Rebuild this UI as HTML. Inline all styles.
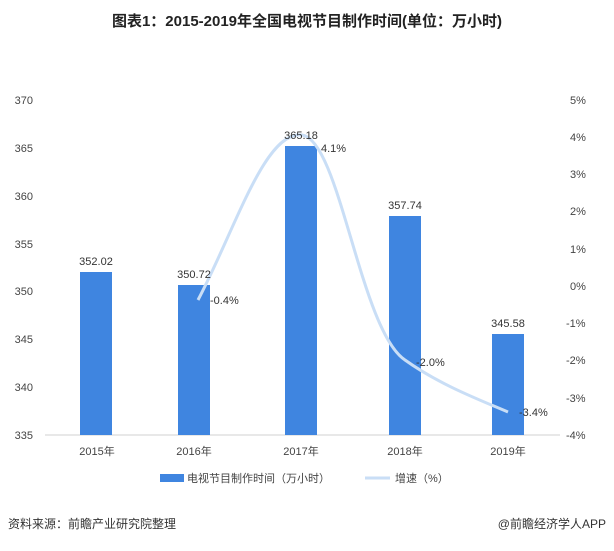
<!DOCTYPE html>
<html><head><meta charset="utf-8"><style>
body{margin:0;background:#fff;}
svg text{font-family:"Liberation Sans","Noto Sans CJK SC",sans-serif;}
</style></head><body>
<svg width="614" height="546" viewBox="0 0 614 546" xmlns="http://www.w3.org/2000/svg">
<rect width="614" height="546" fill="#fff"/>
<text x="307" y="26" text-anchor="middle" font-size="15" font-weight="bold" fill="#222">图表1：2015-2019年全国电视节目制作时间(单位：万小时)</text>
<!-- left axis labels -->
<g font-size="11" fill="#444" text-anchor="end">
<text x="33" y="104">370</text><text x="33" y="152">365</text><text x="33" y="200">360</text><text x="33" y="248">355</text><text x="33" y="295">350</text><text x="33" y="343">345</text><text x="33" y="391">340</text><text x="33" y="439">335</text>
</g>
<g font-size="11" fill="#444" text-anchor="start">
<text x="570" y="104">5%</text><text x="570" y="141">4%</text><text x="570" y="178">3%</text><text x="570" y="215">2%</text><text x="570" y="253">1%</text><text x="570" y="290">0%</text><text x="566" y="327">-1%</text><text x="566" y="364">-2%</text><text x="566" y="402">-3%</text><text x="566" y="439">-4%</text>
</g>
<line x1="45" y1="435" x2="560" y2="435" stroke="#d0d0d0"/>
<g fill="#3f85e0">
<rect x="80" y="272" width="32" height="163"/>
<rect x="178" y="285" width="32" height="150"/>
<rect x="285" y="146" width="32" height="289"/>
<rect x="389" y="216" width="32" height="219"/>
<rect x="492" y="334" width="32" height="101"/>
</g>
<path d="M198,300 C235,230 265,130 302,135 C340,140 360,330 405,360 C440,385 480,400 508,412" fill="none" stroke="#c9def6" stroke-width="3"/>
<g font-size="11" fill="#333" text-anchor="middle">
<text x="96" y="265">352.02</text>
<text x="194" y="278">350.72</text>
<text x="301" y="139">365.18</text>
<text x="405" y="209">357.74</text>
<text x="508" y="327">345.58</text>
</g>
<g font-size="11" fill="#333">
<text x="210" y="304">-0.4%</text>
<text x="321" y="152">4.1%</text>
<text x="416" y="366">-2.0%</text>
<text x="519" y="416">-3.4%</text>
</g>
<g font-size="11" fill="#444" text-anchor="middle">
<text x="97" y="455">2015年</text><text x="194" y="455">2016年</text><text x="301" y="455">2017年</text><text x="405" y="455">2018年</text><text x="508" y="455">2019年</text>
</g>
<rect x="160" y="474" width="24" height="8" fill="#3f85e0"/>
<text x="187" y="482" font-size="11" fill="#444">电视节目制作时间（万小时）</text>
<line x1="365" y1="478" x2="390" y2="478" stroke="#c9def6" stroke-width="3"/>
<text x="395" y="482" font-size="11" fill="#444">增速（%）</text>
<text x="8" y="528" font-size="12" fill="#333">资料来源：前瞻产业研究院整理</text>
<text x="606" y="528" font-size="12" fill="#333" text-anchor="end">@前瞻经济学人APP</text>
</svg>
</body></html>
